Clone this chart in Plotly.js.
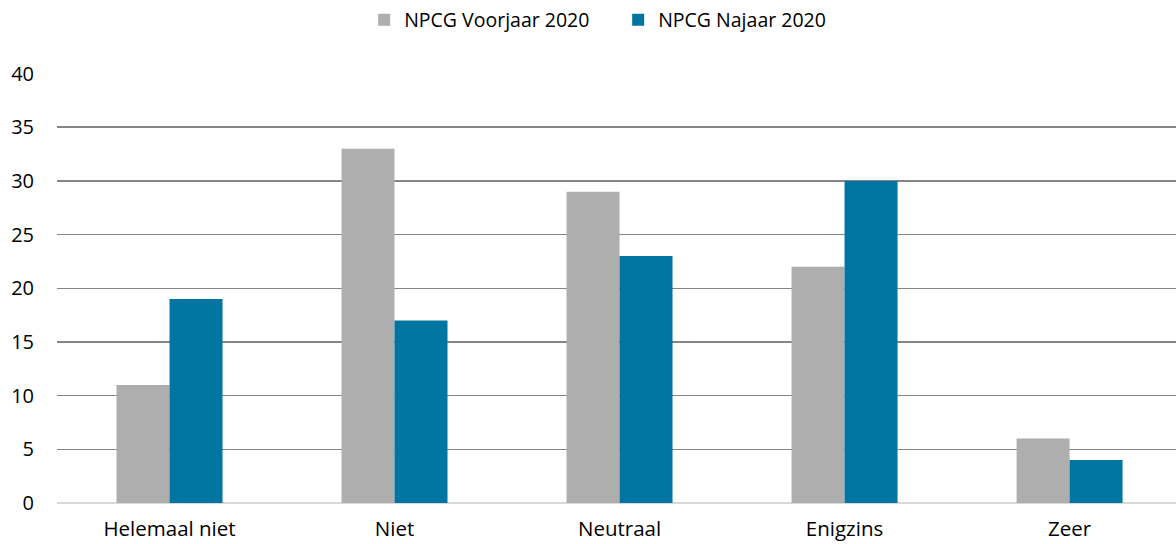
<!DOCTYPE html>
<html>
<head>
<meta charset="utf-8">
<script src="https://cdn.plot.ly/plotly-3.0.1.min.js"></script>
<style>html,body{margin:0;padding:0;background:#fff;}#chart{width:1176px;height:544px;}</style>
</head>
<body>
<div id="chart"></div>
<script>
const categories = ["Helemaal niet", "Niet", "Neutraal", "Enigzins", "Zeer"];
const voorjaar = [11, 33, 29, 22, 6];
const najaar = [19, 17, 23, 30, 4];
const seriesNames = ["NPCG Voorjaar 2020", "NPCG Najaar 2020"];
const yTicks = [0, 5, 10, 15, 20, 25, 30, 35, 40];

const data = [
  {type: "bar", x: categories, y: voorjaar, name: seriesNames[0], marker: {color: "#AFAEAE"}},
  {type: "bar", x: categories, y: najaar, name: seriesNames[1], marker: {color: "#0075A2"}}
];
const layout = {
  width: 1176, height: 544,
  margin: {l: 57, r: 0, t: 73, b: 41, autoexpand: false},
  paper_bgcolor: "#fff", plot_bgcolor: "#fff",
  font: {family: "Open Sans, Noto Sans, sans-serif", size: 19.5, color: "#000"},
  barmode: "group", bargap: 0.529, bargroupgap: 0,
  showlegend: true,
  legend: {orientation: "h", x: 0.2745, xanchor: "left", y: 1.1233, yanchor: "middle", font: {size: 19.5, color: "#000"}, traceorder: "normal", entrywidth: 209, entrywidthmode: "pixels"},
  xaxis: {type: "category", range: [-0.5, 4.473], showgrid: false, showline: false, ticks: "", ticklabelstandoff: 11, tickfont: {size: 20.5}, fixedrange: true},
  yaxis: {range: [0, 40.05], tickvals: yTicks, showgrid: true, gridcolor: "#858585", gridwidth: 1.5, zeroline: true, zerolinecolor: "#D9D9D9", zerolinewidth: 1.5, showline: false, ticks: "", ticklabelstandoff: 22, tickfont: {size: 20}, fixedrange: true}
};
Plotly.newPlot("chart", data, layout, {displayModeBar: false, staticPlot: true});
</script>
</body>
</html>
